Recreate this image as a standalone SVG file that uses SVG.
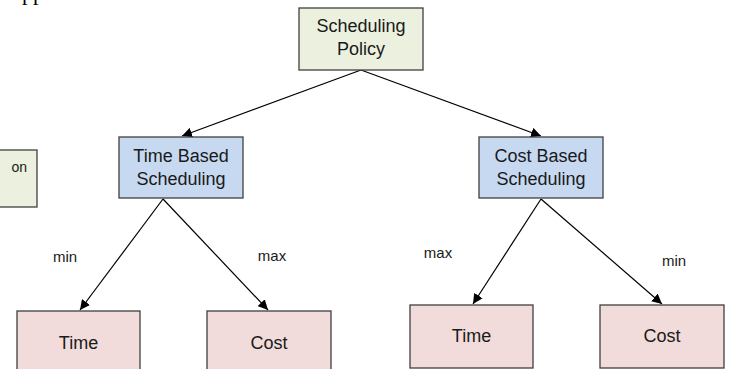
<svg xmlns="http://www.w3.org/2000/svg" width="729" height="369" viewBox="0 0 729 369">
  <style>
    .box { stroke: #3f3f3f; stroke-width: 1.3; }
    .root { fill: #ebf1de; }
    .mid { fill: #c6d9f1; }
    .leaf { fill: #f2dcdb; }
    .t { font-family: "Liberation Sans", Arial, sans-serif; font-size: 18px; fill: #1a1a1a; text-anchor: middle; }
    .lbl { font-family: "Liberation Sans", Arial, sans-serif; font-size: 15px; fill: #1a1a1a; text-anchor: middle; }
    .edge { stroke: #000; stroke-width: 1.2; fill: none; marker-end: url(#arrow); }
  </style>
  <defs>
    <marker id="arrow" viewBox="0 0 10 10" refX="10" refY="5" markerWidth="10" markerHeight="10" markerUnits="userSpaceOnUse" orient="auto">
      <path d="M0,0 L10,5 L0,10 z" fill="#000"/>
    </marker>
  </defs>
  <rect width="729" height="369" fill="#fff"/>

  <!-- text line running off the top edge: only the descenders remain -->
  <text x="22" y="0" font-family="Liberation Serif, serif" font-size="22" fill="#000">pp</text>

  <!-- partly visible box on the left edge -->
  <g id="side-box">
    <rect class="box root" x="-10" y="150" width="47" height="57"/>
    <text x="27" y="172" font-family="Liberation Sans, Arial, sans-serif" font-size="14" fill="#1a1a1a" text-anchor="end">on</text>
  </g>

  <g id="connectors">
    <line class="edge" x1="361" y1="70" x2="182" y2="136"/>
    <line class="edge" x1="361" y1="70" x2="541" y2="136"/>
    <line class="edge" x1="163" y1="199" x2="80" y2="310"/>
    <line class="edge" x1="163" y1="199" x2="268" y2="310"/>
    <line class="edge" x1="541" y1="199" x2="473" y2="304"/>
    <line class="edge" x1="541" y1="199" x2="662" y2="304"/>
    <text class="lbl" x="65" y="262">min</text>
    <text class="lbl" x="272" y="261">max</text>
    <text class="lbl" x="438" y="258">max</text>
    <text class="lbl" x="674" y="266">min</text>
  </g>

  <g id="scheduling-policy">
    <rect class="box root" x="299" y="8" width="124" height="62"/>
    <text class="t" x="361" y="32">Scheduling</text>
    <text class="t" x="361" y="55">Policy</text>
  </g>

  <g id="time-based">
    <rect class="box mid" x="119" y="137" width="124" height="61"/>
    <text class="t" x="181" y="162">Time Based</text>
    <text class="t" x="181" y="185">Scheduling</text>
  </g>

  <g id="cost-based">
    <rect class="box mid" x="479" y="137" width="124" height="61"/>
    <text class="t" x="541" y="162">Cost Based</text>
    <text class="t" x="541" y="185">Scheduling</text>
  </g>

  <g id="time-min">
    <rect class="box leaf" x="17" y="311" width="123" height="70"/>
    <text class="t" x="78.5" y="349">Time</text>
  </g>

  <g id="cost-max">
    <rect class="box leaf" x="207" y="311" width="124" height="70"/>
    <text class="t" x="269" y="349">Cost</text>
  </g>

  <g id="time-max">
    <rect class="box leaf" x="410" y="305" width="123" height="63"/>
    <text class="t" x="471.5" y="342">Time</text>
  </g>

  <g id="cost-min">
    <rect class="box leaf" x="600" y="305" width="124" height="63"/>
    <text class="t" x="662" y="342">Cost</text>
  </g>
</svg>
